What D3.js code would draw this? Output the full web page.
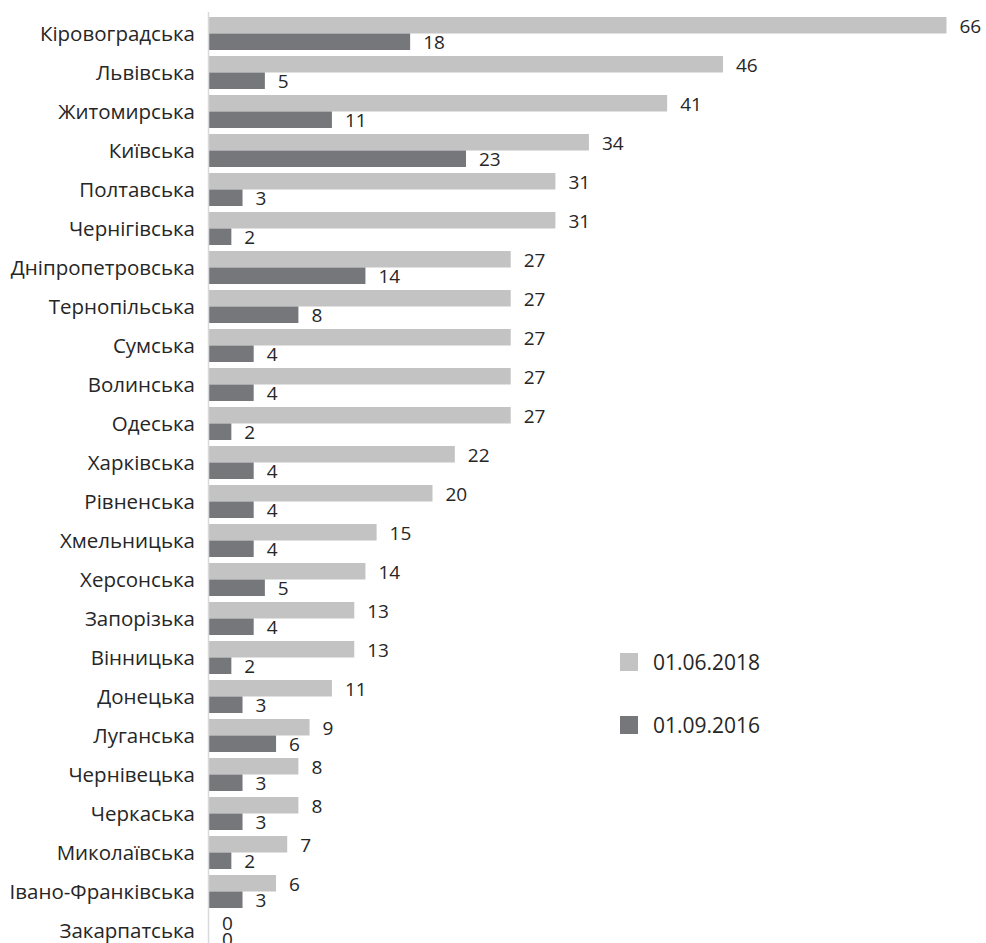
<!DOCTYPE html>
<html>
<head>
<meta charset="utf-8">
<script src="https://cdn.jsdelivr.net/npm/d3@7"></script>
<style>
  body { margin: 0; background: #fff; }
  text { font-family: "Open Sans", "Noto Sans", sans-serif; fill: #262626; }
</style>
</head>
<body>
<svg id="chart" width="986" height="943"></svg>
<script>
// regions, top to bottom
var regions = ["Кіровоградська", "Львівська", "Житомирська", "Київська", "Полтавська",
  "Чернігівська", "Дніпропетровська", "Тернопільська", "Сумська", "Волинська", "Одеська",
  "Харківська", "Рівненська", "Хмельницька", "Херсонська", "Запорізька", "Вінницька",
  "Донецька", "Луганська", "Чернівецька", "Черкаська", "Миколаївська", "Івано-Франківська",
  "Закарпатська"];

var series = ["01.06.2018", "01.09.2016"];

var values2018 = [66, 46, 41, 34, 31, 31, 27, 27, 27, 27, 27, 22, 20, 15, 14, 13, 13, 11, 9, 8, 8, 7, 6, 0];
var values2016 = [18, 5, 11, 23, 3, 2, 14, 8, 4, 4, 2, 4, 4, 4, 5, 4, 2, 3, 6, 3, 3, 2, 3, 0];

var colors = ["#c3c3c3", "#75777a"];

var svg = d3.select("#chart");

var x = d3.scaleLinear().domain([0, 66]).range([209, 946.5]);

var y = d3.scaleBand().domain(regions).range([14, 14 + regions.length * 39]);

var y1 = d3.scaleBand().domain(series).range([3, 36]);

var rows = regions.map(function(r, i) {
  return { region: r, vals: [values2018[i], values2016[i]] };
});

// bars
var g = svg.selectAll(".row")
  .data(rows)
  .enter().append("g")
    .attr("class", "row")
    .attr("transform", function(d) { return "translate(0," + y(d.region) + ")"; });

g.selectAll("rect")
  .data(function(d) { return d.vals.map(function(v, k) { return { s: series[k], v: v, k: k }; }); })
  .enter().append("rect")
    .attr("x", x(0))
    .attr("y", function(d) { return y1(d.s); })
    .attr("width", function(d) { return x(d.v) - x(0); })
    .attr("height", y1.bandwidth())
    .attr("fill", function(d) { return colors[d.k]; });

// value labels
g.selectAll(".val")
  .data(function(d) { return d.vals.map(function(v, k) { return { s: series[k], v: v, k: k }; }); })
  .enter().append("text")
    .attr("class", "val")
    .attr("x", function(d) { return x(d.v) + 13; })
    .attr("y", function(d) { return y1(d.s) + y1.bandwidth() / 2 + 1; })
    .attr("dy", "0.35em")
    .style("font-size", "19px")
    .text(function(d) { return d.v; });

// category labels
g.append("text")
  .attr("x", 195)
  .attr("y", y.bandwidth() / 2)
  .attr("dy", "0.35em")
  .attr("text-anchor", "end")
  .style("font-size", "20.5px")
  .text(function(d) { return d.region; });

// vertical axis line
svg.append("line")
  .attr("x1", 208.5).attr("x2", 208.5)
  .attr("y1", 12).attr("y2", 943)
  .attr("stroke", "#d9d9d9")
  .attr("stroke-width", 1.5);

// legend
var legend = svg.selectAll(".legend")
  .data(series)
  .enter().append("g")
    .attr("class", "legend")
    .attr("transform", function(d, i) { return "translate(620," + (653 + i * 63) + ")"; });

legend.append("rect")
  .attr("width", 18).attr("height", 18)
  .attr("fill", function(d, i) { return colors[i]; });

legend.append("text")
  .attr("x", 33)
  .attr("y", 10)
  .attr("dy", "0.35em")
  .style("font-size", "21px")
  .text(function(d) { return d; });
</script>
</body>
</html>
